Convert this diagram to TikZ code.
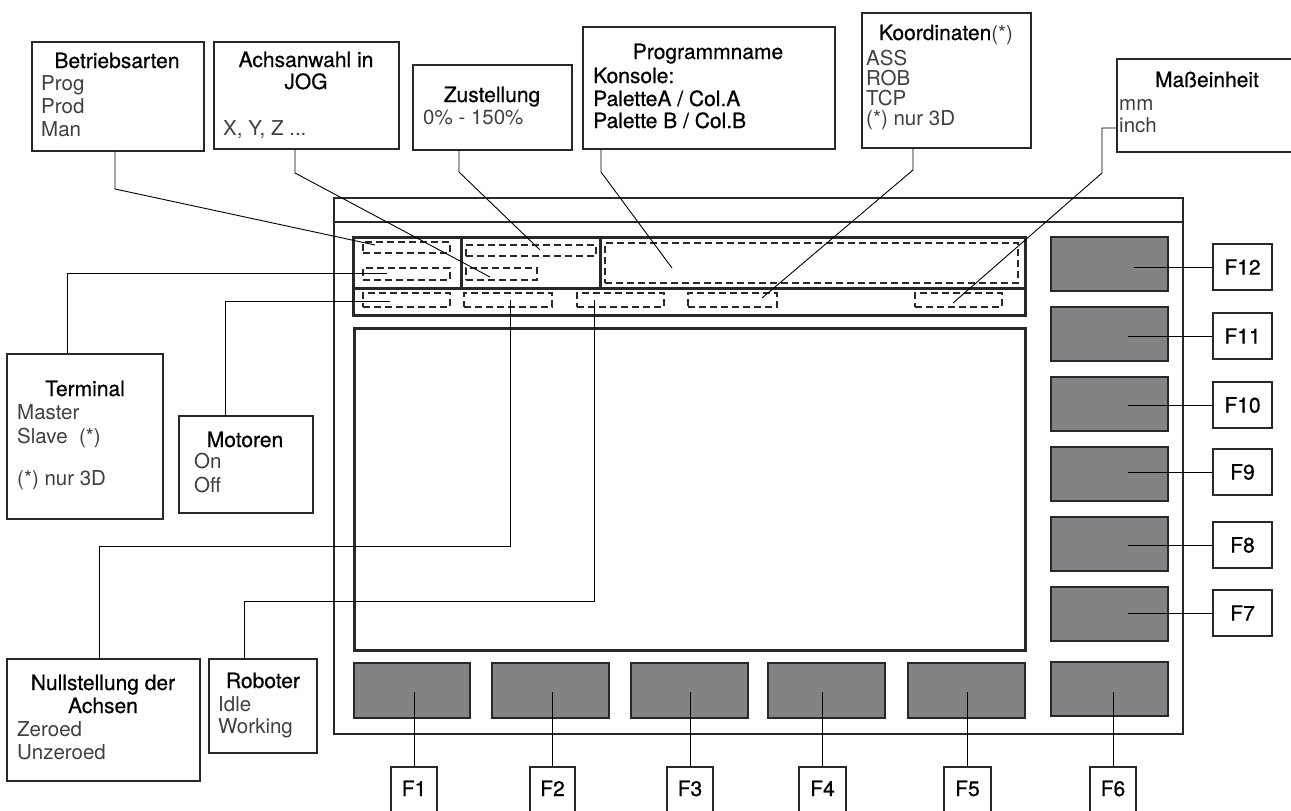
\documentclass[tikz,border=0pt]{standalone}
\usepackage{fontspec}
\setmainfont{TeX Gyre Heros}
\newfontfamily\ttlfont[FakeBold=0.6]{TeX Gyre Heros}
\usetikzlibrary{fit,calc}
\definecolor{btngray}{RGB}{130,131,132}
\definecolor{edge}{RGB}{40,40,40}
\begin{document}
\begin{tikzpicture}[x=1pt,y=-1pt,
  every node/.style={font=\fontsize{20.5}{23}\selectfont, inner sep=0pt},
  box/.style={draw=edge, line width=1.1pt, fill=white},
  title/.style={anchor=base, text=black, font=\ttlfont\fontsize{21}{23}\selectfont},
  strong/.style={anchor=base west, text=black, font=\ttlfont\fontsize{21}{23}\selectfont},
  body/.style={anchor=base west, text=black!75},
  fkey/.style={text=black, font=\ttlfont\fontsize{21}{23}\selectfont},
  thickline/.style={draw=edge, line width=3pt},
  dbox/.style={draw=edge, line width=1.2pt, dash pattern=on 7pt off 4pt},
  btn/.style={draw=edge, line width=1.5pt, fill=btngray},
  lbl/.style={draw=edge, line width=1.1pt, fill=white},
  conn/.style={draw=black, line width=0.9pt}]
\useasboundingbox (0,0) rectangle (1291,811);
\clip (0,0) rectangle (1291,811);

% device frame
\node[draw=edge, line width=1.5pt, fit={(334,198) (1183,734)}] (frame) {};
\coordinate (fl) at (334,222);
\coordinate (fr) at (1183,222);
\draw[draw=edge, line width=1.3pt] (fl) -- (fr);

% header
\node[thickline, fit={(353,237) (1025,315)}] (hdr) {};
\coordinate (hl) at (353,288);
\coordinate (hr) at (1025,288);
\draw[thickline] (hl) -- (hr);
\coordinate (v1t) at (461,237); \coordinate (v1b) at (461,288);
\coordinate (v2t) at (600,237); \coordinate (v2b) at (600,288);
\draw[thickline] (v1t) -- (v1b);
\draw[thickline] (v2t) -- (v2b);

% dashed fields
\node[dbox, fit={(363,242) (450,253)}] (dA) {};
\node[dbox, fit={(363,268) (450,280)}] (dB) {};
\node[dbox, fit={(466,245) (596,256)}] (dC) {};
\node[dbox, fit={(466,268) (537,280)}] (dD) {};
\node[dbox, fit={(605,243) (1018,283)}] (dE) {};
\node[dbox, fit={(363,293) (450,307)}] (r1) {};
\node[dbox, fit={(464,293) (552,307)}] (r2) {};
\node[dbox, fit={(577,293) (664,307)}] (r3) {};
\node[dbox, fit={(688,293) (777,307)}] (r4) {};
\node[dbox, fit={(915,293) (1002,307)}] (r5) {};

% main screen
\node[thickline, fit={(354,328) (1025,650)}] (screen) {};

% bottom buttons
\node[btn, fit={(354,663) (470,718)}] (b1) {};
\node[btn, fit={(492,663) (609,718)}] (b2) {};
\node[btn, fit={(631,663) (748,718)}] (b3) {};
\node[btn, fit={(768,663) (885,718)}] (b4) {};
\node[btn, fit={(908,663) (1025,718)}] (b5) {};
% right column buttons
\node[btn, fit={(1051,662) (1168,716)}] (b6) {};
\node[btn, fit={(1051,587) (1168,641)}] (b7) {};
\node[btn, fit={(1051,517) (1168,571)}] (b8) {};
\node[btn, fit={(1051,447) (1168,501)}] (b9) {};
\node[btn, fit={(1051,377) (1168,431)}] (b10) {};
\node[btn, fit={(1051,307) (1168,361)}] (b11) {};
\node[btn, fit={(1051,237) (1168,291)}] (b12) {};

% right labels
\node[lbl, fit={(1213,244) (1272,290)}] (l12) {};
\node[lbl, fit={(1213,313) (1272,359)}] (l11) {};
\node[lbl, fit={(1213,382) (1272,428)}] (l10) {};
\node[lbl, fit={(1213,449) (1272,495)}] (l9) {};
\node[lbl, fit={(1213,522) (1272,568)}] (l8) {};
\node[lbl, fit={(1213,590) (1272,636)}] (l7) {};
\node[fkey] (t12) at (l12.center) {F12};
\node[fkey] (t11) at (l11.center) {F11};
\node[fkey] (t10) at (l10.center) {F10};
\node[fkey] (t9) at (l9.center) {F9};
\node[fkey] (t8) at (l8.center) {F8};
\node[fkey] (t7) at (l7.center) {F7};

% bottom labels
\node[lbl, fit={(391,767) (437,830)}] (l1) {};
\node[lbl, fit={(530,767) (575,830)}] (l2) {};
\node[lbl, fit={(667,767) (713,830)}] (l3) {};
\node[lbl, fit={(799,767) (846,830)}] (l4) {};
\node[lbl, fit={(944,767) (991,830)}] (l5) {};
\node[lbl, fit={(1090,767) (1136,830)}] (l6) {};
\node[fkey, anchor=base] (t1) at (414,796) {F1};
\node[fkey, anchor=base] (t2) at (552.5,796) {F2};
\node[fkey, anchor=base] (t3) at (690,796) {F3};
\node[fkey, anchor=base] (t4) at (822.5,796) {F4};
\node[fkey, anchor=base] (t5) at (967.5,796) {F5};
\node[fkey, anchor=base] (t6) at (1113,796) {F6};

% F-key connectors
\coordinate (rc) at (1128,0);
\coordinate (rc12) at (1134,0);
\draw[conn] (l12.west) -- (l12.west -| rc12);
\draw[conn] (l11.west) -- (l11.west -| rc);
\draw[conn] (l10.west) -- (l10.west -| rc);
\draw[conn] (l9.west) -- (l9.west -| rc);
\draw[conn] (l8.west) -- (l8.west -| rc);
\draw[conn] (l7.west) -- (l7.west -| rc);
\coordinate (bc) at (0,692);
\draw[conn] (l1.north) -- (l1.north |- bc);
\draw[conn] (l2.north) -- (l2.north |- bc);
\draw[conn] (l3.north) -- (l3.north |- bc);
\draw[conn] (l4.north) -- (l4.north |- bc);
\draw[conn] (l5.north) -- (l5.north |- bc);
\draw[conn] (l6.north) -- (l6.north |- bc);

% ---- annotation boxes ----
\node[box, fit={(32,42) (204,151)}] (bet) {};
\node[title] (betT) at (117,68) {Betriebsarten};
\node[body] (bet1) at (41,90) {Prog};
\node[body] (bet2) at (41,113) {Prod};
\node[body] (bet3) at (41,136) {Man};

\node[box, fit={(214,42) (399,149)}] (ach) {};
\node[title] (achT) at (306,67) {Achsanwahl in};
\node[title] (achT2) at (306,89) {JOG};
\node[body] (ach1) at (223,135) {X, Y, Z ...};

\node[box, fit={(413,65) (572,150)}] (zus) {};
\node[title] (zusT) at (492,102) {Zustellung};
\node[body] (zus1) at (423,124) {0\% - 150\%};

\node[box, fit={(583,27) (835,149)}] (prg) {};
\node[title] (prgT) at (708,59) {Programmname};
\node[strong] (prg1) at (593,83) {Konsole:};
\node[strong] (prg2) at (593,106) {PaletteA / Col.A};
\node[strong] (prg3) at (593,128) {Palette B / Col.B};

\node[box, fit={(862,13) (1031,148)}] (koo) {};
\node[title] (kooT) at (946,40) {Koordinaten{\normalfont\fontsize{20.5}{23}\selectfont\color{black!75}(*)}};
\node[body] (koo1) at (866,65) {ASS};
\node[body] (koo2) at (866,85) {ROB};
\node[body] (koo3) at (866,105) {TCP};
\node[body] (koo4) at (866,125) {(*) nur 3D};

\node[box, fit={(1117,59) (1300,152)}] (mas) {};
\node[title] (masT) at (1207,87) {Maßeinheit};
\node[body] (mas1) at (1119,110) {mm};
\node[body] (mas2) at (1119,132) {inch};

\node[box, fit={(7,354) (163,519)}] (ter) {};
\node[title] (terT) at (85,396) {Terminal};
\node[body] (ter1) at (17,419) {Master};
\node[body] (ter2) at (17,443) {Slave~~(*)};
\node[body] (ter3) at (17,485) {(*) nur 3D};

\node[box, fit={(179,416) (313,513)}] (mot) {};
\node[title] (motT) at (245,447) {Motoren};
\node[body] (mot1) at (194,468) {On};
\node[body] (mot2) at (194,492) {Off};

\node[box, fit={(7,659) (200,781)}] (nul) {};
\node[title] (nulT) at (103,690) {Nullstellung der};
\node[title] (nulT2) at (103,713) {Achsen};
\node[body] (nul1) at (17,736) {Zeroed};
\node[body] (nul2) at (17,759) {Unzeroed};

\node[box, fit={(209,659) (317,753)}] (rob) {};
\node[title] (robT) at (263,688) {Roboter};
\node[body] (rob1) at (218,711) {Idle};
\node[body] (rob2) at (218,733) {Working};

% ---- annotation connectors ----
\coordinate (betK) at (115,189);
\coordinate (betE) at (375,245);
\draw[conn] (bet.south -| betK) -- (betK) -- (betE);

\coordinate (achK) at (295,173);
\coordinate (achE) at (490,277);
\draw[conn] (ach.south -| achK) -- (achK) -- (achE);

\coordinate (zusK) at (459,172);
\coordinate (zusE) at (540,250);
\draw[conn] (zus.south -| zusK) -- (zusK) -- (zusE);

\coordinate (prgK) at (601,172);
\coordinate (prgE) at (672,268);
\draw[conn] (prg.south -| prgK) -- (prgK) -- (prgE);

\coordinate (kooK) at (913,170);
\coordinate (kooE) at (762,298);
\draw[conn] (koo.south -| kooK) -- (kooK) -- (kooE);

\coordinate (masA) at (1102,128);
\coordinate (masK) at (1102,173);
\coordinate (masE) at (953,303);
\draw[conn] (mas.west |- masA) -- (masA) -- (masK) -- (masE);

\coordinate (terK) at (67,273);
\coordinate (terE) at (387,273);
\draw[conn] (ter.north -| terK) -- (terK) -- (terE);

\coordinate (motK) at (225,301);
\coordinate (motE) at (390,301);
\draw[conn] (mot.north -| motK) -- (motK) -- (motE);

\coordinate (nulK) at (99,546);
\coordinate (nulM) at (510,546);
\coordinate (nulE) at (510,300);
\draw[conn] (nul.north -| nulK) -- (nulK) -- (nulM) -- (nulE);

\coordinate (robK) at (244,601);
\coordinate (robM) at (594,601);
\coordinate (robE) at (594,300);
\draw[conn] (rob.north -| robK) -- (robK) -- (robM) -- (robE);
\end{tikzpicture}
\end{document}
